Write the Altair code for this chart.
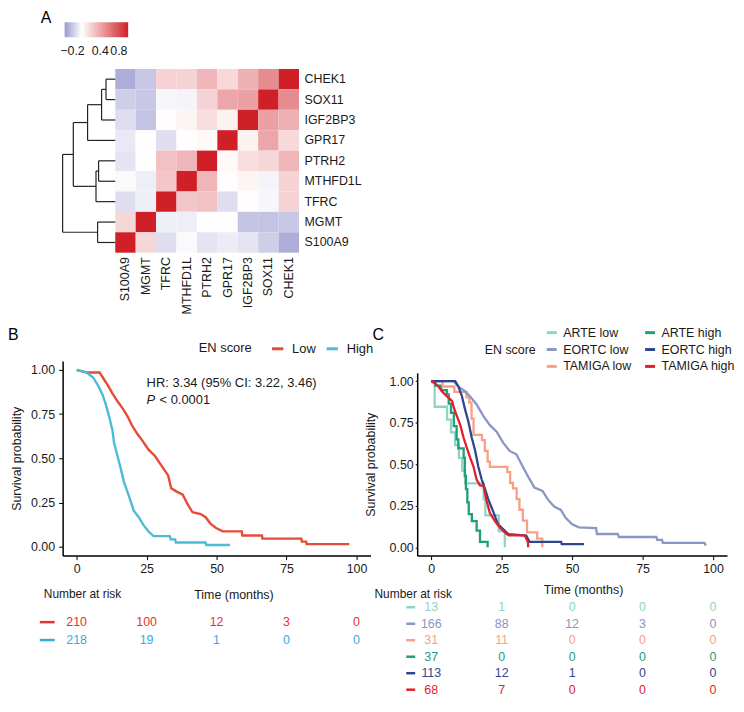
import altair as alt
import pandas as pd

FONT = "Liberation Sans"
INK = "#1a1a1a"

# ---------------- Panel A: correlation heatmap ----------------
col_genes = ["S100A9", "MGMT", "TFRC", "MTHFD1L", "PTRH2", "GPR17", "IGF2BP3", "SOX11", "CHEK1"]
row_genes = ["CHEK1", "SOX11", "IGF2BP3", "GPR17", "PTRH2", "MTHFD1L", "TFRC", "MGMT", "S100A9"]
corr_CHEK1 = [-0.30, -0.20, 0.20, 0.20, 0.33, 0.17, 0.35, 0.52, 1.00]
corr_SOX11 = [-0.18, -0.20, -0.03, -0.04, 0.20, 0.40, 0.42, 1.00, 0.52]
corr_IGF2BP3 = [-0.12, -0.22, 0.01, 0.05, 0.15, 0.06, 1.00, 0.42, 0.35]
corr_GPR17 = [-0.08, 0.01, -0.12, 0.01, 0.03, 1.00, 0.06, 0.40, 0.17]
corr_PTRH2 = [-0.10, 0.01, 0.28, 0.33, 1.00, 0.03, 0.15, 0.18, 0.33]
corr_MTHFD1L = [-0.02, -0.06, 0.25, 1.00, 0.33, 0.01, 0.05, -0.04, 0.20]
corr_TFRC = [-0.12, -0.06, 1.00, 0.25, 0.28, -0.12, 0.01, -0.03, 0.20]
corr_MGMT = [0.18, 1.00, -0.06, -0.06, 0.01, 0.01, -0.22, -0.22, -0.20]
corr_S100A9 = [1.00, 0.18, -0.12, -0.02, -0.10, -0.07, -0.10, -0.18, -0.30]
corr_rows = [corr_CHEK1, corr_SOX11, corr_IGF2BP3, corr_GPR17, corr_PTRH2,
             corr_MTHFD1L, corr_TFRC, corr_MGMT, corr_S100A9]
color_ticks = [-0.2, 0.4, 0.8]

# dendrogram (leaves = row positions 0..8, new nodes numbered 9..)
merge_left = [0, 9, 10, 4, 12, 7, 11, 15]
merge_right = [1, 2, 3, 5, 6, 8, 13, 14]
merge_height = [0.176, 0.26, 0.526, 0.317, 0.366, 0.336, 0.797, 1.0]

# ---------------- Panel B: KM by EN score (curve vertices) ----------------
b_groups = ["Low", "High"]
b_low_t = [0, 3.5, 8.2, 9.3, 11.1, 12.8, 14.6, 16.3, 18.1, 19.8, 21.6, 23.3, 25.7, 28.0, 30.3, 32.7,
           33.8, 35.6, 37.9, 39.7, 41.4, 44.3, 46.1, 47.8, 49.8, 52.2, 59.0, 59.2, 66.2, 66.4, 80.3,
           80.5, 82.0, 82.2, 97.4]
b_low_s = [1.0, 0.985, 0.985, 0.958, 0.913, 0.867, 0.822, 0.785, 0.74, 0.685, 0.64, 0.604, 0.549, 0.513, 0.458, 0.403,
           0.331, 0.313, 0.294, 0.24, 0.195, 0.185, 0.167, 0.131, 0.106, 0.087, 0.087, 0.064, 0.064, 0.046, 0.046,
           0.029, 0.029, 0.015, 0.015]
b_high_t = [0, 3.5, 5.8, 7.6, 9.3, 10.5, 11.7, 12.8, 13.4, 14.6, 15.8, 16.9, 18.1, 19.3, 20.4, 22.2,
            23.9, 25.7, 27.5, 33.3, 33.6, 35.2, 35.5, 46.1, 46.3, 54.8]
b_high_s = [1.0, 0.985, 0.958, 0.913, 0.858, 0.80, 0.73, 0.658, 0.585, 0.513, 0.44, 0.367, 0.313, 0.258, 0.204, 0.167,
            0.122, 0.086, 0.06, 0.06, 0.042, 0.042, 0.024, 0.024, 0.01, 0.01]
b_line_colors = ["#E64B35", "#4DBBD5"]
b_hr_text = "HR: 3.34 (95% CI: 3.22, 3.46)"
b_p_text = "< 0.0001"
risk_times = [0, 25, 50, 75, 100]
b_risk_low = [210, 100, 12, 3, 0]
b_risk_high = [218, 19, 1, 0, 0]
b_table_colors = ["#E8312F", "#3AA9E0"]

# ---------------- Panel C: KM by trial and EN score ----------------
c_groups = ["ARTE low", "ARTE high", "EORTC low", "EORTC high", "TAMIGA low", "TAMIGA high"]
c_colors = ["#8FD4C1", "#1E9E7A", "#8A96C4", "#2E4590", "#F8A083", "#E3202A"]
# small groups: step events (time, survival after the event)
arte_low_t = [0, 1.2, 5.6, 7.0, 8.5, 9.8, 11.0, 12.0, 18.6, 19.2, 24.0, 26.1]
arte_low_s = [1.0, 0.846, 0.769, 0.692, 0.615, 0.538, 0.462, 0.385, 0.288, 0.192, 0.096, 0.0]
arte_high_t = [0, 1.5, 3.5, 5.5, 6.2, 7.0, 8.0, 9.0, 9.6, 11.5, 11.9, 12.3, 12.8, 13.3, 14.4, 16.1, 17.3, 20.0]
arte_high_s = [1.0, 0.973, 0.946, 0.92, 0.865, 0.81, 0.73, 0.65, 0.595, 0.54, 0.43, 0.35, 0.27, 0.20, 0.158, 0.10, 0.033, 0.0]
tamiga_low_t = [0, 4.0, 8.2, 12.5, 13.5, 14.3, 15.0, 18.0, 19.0, 20.0, 20.8, 27.0, 28.0, 29.0, 30.3, 31.3,
                32.5, 34.0, 37.6, 39.4]
tamiga_low_s = [1.0, 0.968, 0.935, 0.903, 0.871, 0.774, 0.677, 0.645, 0.581, 0.516, 0.484, 0.452, 0.387, 0.355, 0.29, 0.226,
                0.161, 0.09, 0.052, 0.0]
# larger groups: curve vertices
eortc_low_t = [0, 8.0, 9.7, 11.5, 13.8, 16.1, 18.5, 20.8, 23.2, 25.5, 27.8, 30.2, 32.5, 34.9, 36.6, 39.5,
               41.3, 43.6, 46.0, 47.7, 50.0, 52.4, 58.5, 58.8, 66.2, 66.6, 79.9, 80.2, 81.9, 82.2, 97.0, 97.4]
eortc_low_s = [1.0, 1.0, 0.965, 0.946, 0.908, 0.86, 0.79, 0.735, 0.696, 0.63, 0.58, 0.56, 0.485, 0.41, 0.36, 0.34,
               0.29, 0.245, 0.225, 0.177, 0.138, 0.12, 0.115, 0.08, 0.08, 0.062, 0.062, 0.045, 0.045, 0.027, 0.027, 0.01]
eortc_high_t = [0, 8.5, 9.7, 10.9, 12.0, 13.2, 14.4, 15.6, 16.7, 17.9, 19.1, 20.2, 22.0, 23.7, 25.5, 27.3,
                33.7, 34.9, 46.1, 46.3, 54.2]
eortc_high_s = [1.0, 1.0, 0.965, 0.908, 0.83, 0.754, 0.658, 0.58, 0.485, 0.408, 0.35, 0.29, 0.215, 0.138, 0.11, 0.08,
                0.071, 0.033, 0.033, 0.019, 0.019]
tamiga_high_t = [0, 1.5, 2.7, 3.9, 5.6, 7.4, 8.0, 9.1, 10.3, 11.5, 12.6, 13.8, 15.0, 16.1, 17.3, 18.5,
                 19.6, 20.8, 22.6, 24.3, 26.7, 27.5, 33.1, 34.3, 34.4]
tamiga_high_s = [1.0, 0.985, 0.965, 0.937, 0.908, 0.88, 0.84, 0.79, 0.735, 0.658, 0.6, 0.54, 0.485, 0.408, 0.373, 0.37,
                 0.283, 0.206, 0.158, 0.119, 0.081, 0.072, 0.072, 0.033, 0.0]
c_table_order = ["ARTE low", "EORTC low", "TAMIGA low", "ARTE high", "EORTC high", "TAMIGA high"]
risk_arte_low = [13, 1, 0, 0, 0]
risk_eortc_low = [166, 88, 12, 3, 0]
risk_tamiga_low = [31, 11, 0, 0, 0]
risk_arte_high = [37, 0, 0, 0, 0]
risk_eortc_high = [113, 12, 1, 0, 0]
risk_tamiga_high = [68, 7, 0, 0, 0]

# ================= layout sizes =================
DEND_W, HM_W, HM_H = 53, 238, 185
B_W, C_W, KM_H = 310, 312, 279
TAB_H = 110

one = pd.DataFrame({"z": [0]})


def label(txt, x, y, size=16, **kw):
    return alt.Chart(one).mark_text(text=txt, align="left", baseline="top", fontSize=size,
                                    color="black", **kw).encode(x=alt.value(x), y=alt.value(y))


# ---------------- heatmap chart ----------------
heat_df = pd.DataFrame([{"row": r, "col": c, "v": corr_rows[i][j]}
                        for i, r in enumerate(row_genes) for j, c in enumerate(col_genes)])
pos = {i: float(i) for i in range(len(row_genes))}
hgt = {i: 0.0 for i in range(len(row_genes))}
segs = []
for k, (a, b, h) in enumerate(zip(merge_left, merge_right, merge_height)):
    for ch in (a, b):
        segs.append({"h1": hgt[ch], "h2": h, "p1": pos[ch], "p2": pos[ch]})
    segs.append({"h1": h, "h2": h, "p1": pos[a], "p2": pos[b]})
    node = len(row_genes) + k
    pos[node] = (pos[a] + pos[b]) / 2
    hgt[node] = h
seg_df = pd.DataFrame(segs)

rect = alt.Chart(heat_df).mark_rect().encode(
    x=alt.X("col:N", sort=col_genes, scale=alt.Scale(range=[DEND_W, HM_W]),
            axis=alt.Axis(title=None, labelAngle=270, ticks=False, domain=False, labelPadding=4,
                          labelFontSize=12.5, labelColor=INK)),
    y=alt.Y("row:N", sort=row_genes,
            axis=alt.Axis(title=None, orient="right", ticks=False, domain=False, labelPadding=5,
                          labelFontSize=12.5, labelColor=INK)),
    color=alt.Color("v:Q",
                    scale=alt.Scale(domain=[-0.37, 0, 1], range=["#9a9ad0", "#ffffff", "#cf2027"],
                                    interpolate="rgb"),
                    legend=alt.Legend(orient="none", legendX=2, legendY=-47, direction="horizontal",
                                      title=None, gradientLength=64, gradientThickness=15,
                                      values=color_ticks, format=".1f", labelFontSize=12.5,
                                      labelColor=INK, labelOffset=8, gradientStrokeWidth=0)),
)
dend = alt.Chart(seg_df).mark_rule(color="#222222", strokeWidth=1.2).encode(
    x=alt.X("h1:Q", scale=alt.Scale(domain=[0, 1], range=[DEND_W, 0]), axis=None),
    x2="h2:Q",
    y=alt.Y("p1:Q", scale=alt.Scale(domain=[-0.5, 8.5], range=[0, HM_H]), axis=None),
    y2="p2:Q",
)
heat_chart = alt.layer(rect, dend, label("A", -22, -59, 16)).resolve_scale(
    x="independent", y="independent").properties(width=HM_W, height=HM_H)

blank = alt.Chart(one).mark_point(opacity=0).encode(
    x=alt.X("z:Q", axis=None), y=alt.Y("z:Q", axis=None)).properties(width=1, height=1)


# ---------------- KM helpers ----------------
def km_frame(names, ts, ss):
    rows = []
    for n, t, s in zip(names, ts, ss):
        for i, (a, b) in enumerate(zip(t, s)):
            rows.append({"grp": n, "t": a, "s": b, "i": i})
    return pd.DataFrame(rows)


def x_axis(title_x, title_y):
    return alt.Axis(values=risk_times, format="d", title="Time (months)", titleX=title_x, titleY=title_y,
                    titleBaseline="middle", titleFontSize=12.5, titleFontWeight="normal", titleColor=INK,
                    labelFontSize=12.5, labelColor=INK, tickSize=4, labelPadding=3, labelFlush=False,
                    domainColor="black", domainWidth=1.5, tickColor="black", grid=False)


def y_axis(title_x, tick):
    return alt.Axis(values=[0, 0.25, 0.5, 0.75, 1.0], format=".2f", title="Survival probability",
                    titleX=title_x, titleAngle=270, titleBaseline="middle", titleFontSize=12.5,
                    titleFontWeight="normal", titleColor=INK, labelFontSize=12.5, labelColor=INK,
                    tickSize=tick, labelPadding=4 if tick > 2 else 2, domainColor="black",
                    domainWidth=1.5, tickColor="black", grid=False)


# ---------------- panel B ----------------
b_df = km_frame(b_groups, [b_low_t, b_high_t], [b_low_s, b_high_s])
b_x = alt.Scale(domain=[-5, 105], nice=False, zero=False)
b_y = alt.Scale(domain=[-0.05, 1.05], range=[KM_H, 83], nice=False, zero=False)
b_lines = alt.Chart(b_df).mark_line(strokeWidth=2.4).encode(
    x=alt.X("t:Q", scale=b_x, axis=x_axis(172, 39)),
    y=alt.Y("s:Q", scale=b_y, axis=y_axis(-46, 4)),
    order=alt.Order("i:Q"),
    color=alt.Color("grp:N", sort=b_groups, scale=alt.Scale(domain=b_groups, range=b_line_colors),
                    legend=alt.Legend(title="EN score", orient="none", legendX=137, legendY=63,
                                      direction="horizontal", titleOrient="left", titleFontSize=13,
                                      titleFontWeight="normal", titleColor=INK, labelFontSize=13,
                                      labelColor=INK, symbolType="stroke", symbolStrokeWidth=3,
                                      symbolSize=130, labelOffset=7, columnPadding=4, titlePadding=18)),
)
ann_df = pd.DataFrame({"t": [25, 25, 25], "s": [0.925, 0.832, 0.832],
                       "txt": [b_hr_text, "P", b_p_text]})
hr = alt.Chart(ann_df.iloc[[0]]).mark_text(align="left", baseline="middle", fontSize=13, color=INK).encode(
    x=alt.X("t:Q", scale=b_x), y=alt.Y("s:Q", scale=b_y), text="txt:N")
p_it = alt.Chart(ann_df.iloc[[1]]).mark_text(align="left", baseline="middle", fontSize=13, color=INK,
                                             fontStyle="italic").encode(
    x=alt.X("t:Q", scale=b_x), y=alt.Y("s:Q", scale=b_y), text="txt:N")
p_rest = alt.Chart(ann_df.iloc[[2]]).mark_text(align="left", baseline="middle", fontSize=13, color=INK,
                                               dx=13).encode(
    x=alt.X("t:Q", scale=b_x), y=alt.Y("s:Q", scale=b_y), text="txt:N")
km_b = alt.layer(b_lines, hr, p_it, p_rest, label("B", -55, 49, 16)).properties(width=B_W, height=KM_H)

# ---------------- panel C ----------------
c_step_df = km_frame(["ARTE low", "ARTE high", "TAMIGA low"],
                     [arte_low_t, arte_high_t, tamiga_low_t], [arte_low_s, arte_high_s, tamiga_low_s])
c_trace_df = km_frame(["EORTC low", "EORTC high", "TAMIGA high"],
                      [eortc_low_t, eortc_high_t, tamiga_high_t], [eortc_low_s, eortc_high_s, tamiga_high_s])
c_x = alt.Scale(domain=[-5, 105], nice=False, zero=False)
c_y = alt.Scale(domain=[-0.05, 1.05], range=[KM_H, 95], nice=False, zero=False)
c_color = alt.Color("grp:N", sort=c_groups, scale=alt.Scale(domain=c_groups, range=c_colors),
                    legend=alt.Legend(title="EN score", orient="none", legendX=68, legendY=48, columns=2,
                                      direction="horizontal", titleOrient="left", titleAnchor="middle",
                                      titleFontSize=12.5, titleFontWeight="normal", titleColor=INK,
                                      labelFontSize=12.5, labelColor=INK, symbolType="stroke",
                                      symbolStrokeWidth=3, symbolSize=100, labelOffset=5, columnPadding=6,
                                      rowPadding=4, titlePadding=9))
c_step = alt.Chart(c_step_df).mark_line(interpolate="step-after", strokeWidth=2.3).encode(
    x=alt.X("t:Q", scale=c_x, axis=x_axis(167, 34)),
    y=alt.Y("s:Q", scale=c_y, axis=y_axis(-47, 2)),
    order=alt.Order("i:Q"), color=c_color)
c_trace = alt.Chart(c_trace_df).mark_line(strokeWidth=2.3).encode(
    x=alt.X("t:Q", scale=c_x), y=alt.Y("s:Q", scale=c_y),
    order=alt.Order("i:Q"), color=c_color)
km_c = alt.layer(c_step, c_trace, label("C", -45, 49, 16)).properties(width=C_W, height=KM_H)


# ---------------- risk tables ----------------
def risk_table(names, counts, colors, width, y_range, dash_x, head_x):
    nums, dashes = [], []
    for i, (n, cnt, col) in enumerate(zip(names, counts, colors)):
        dashes.append({"r": i, "c": col})
        for t, v in zip(risk_times, cnt):
            nums.append({"r": i, "t": t, "n": v, "c": col})
    ysc = alt.Scale(domain=[0, len(names) - 1], range=y_range, nice=False, zero=False)
    txt = alt.Chart(pd.DataFrame(nums)).mark_text(fontSize=12.5, baseline="middle").encode(
        x=alt.X("t:Q", scale=alt.Scale(domain=[-5, 105], nice=False, zero=False), axis=None),
        y=alt.Y("r:Q", scale=ysc, axis=None),
        text="n:Q", color=alt.Color("c:N", scale=None))
    dash = alt.Chart(pd.DataFrame(dashes)).mark_rule(strokeWidth=2.5).encode(
        x=alt.value(dash_x[0]), x2=alt.value(dash_x[1]),
        y=alt.Y("r:Q", scale=ysc, axis=None), color=alt.Color("c:N", scale=None))
    head = alt.Chart(one).mark_text(text="Number at risk", fontSize=12, color=INK, baseline="middle",
                                    align="center").encode(x=alt.value(head_x), y=alt.value(13))
    return alt.layer(dash, txt, head).properties(width=width, height=TAB_H)


tab_b = risk_table(b_groups, [b_risk_low, b_risk_high], b_table_colors, B_W, [41, 59], (-23, -8), 20)
c_color_map = dict(zip(c_groups, c_colors))
tab_c = risk_table(c_table_order,
                   [risk_arte_low, risk_eortc_low, risk_tamiga_low, risk_arte_high, risk_eortc_high, risk_tamiga_high],
                   [c_color_map[g] for g in c_table_order], C_W, [26, 109], (-11, -2), -4)

chart = alt.concat(heat_chart, blank, km_b, km_c, tab_b, tab_c, columns=2,
                   spacing={"row": 26, "column": 47}, bounds="flush").resolve_scale(
    color="independent").resolve_legend(color="independent").properties(
    padding=0, background="white").configure(font=FONT).configure_view(stroke=None)

chart.save("out.html", embed_options={"renderer": "svg", "actions": False})
